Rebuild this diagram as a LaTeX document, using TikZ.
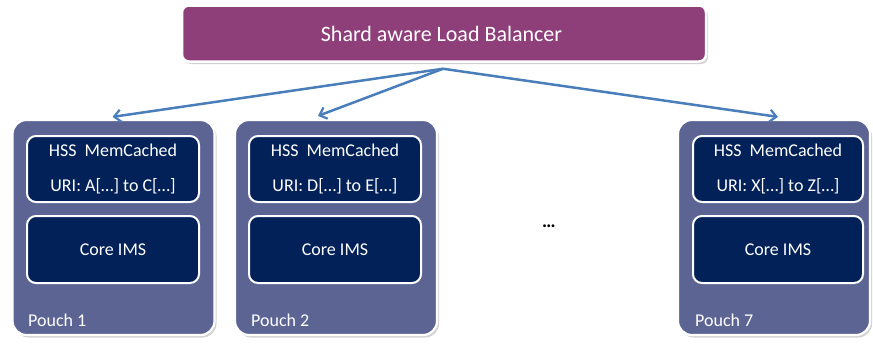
\documentclass[tikz,border=0pt]{standalone}
\usepackage{fontspec}
\setmainfont{Carlito}
\usetikzlibrary{arrows.meta,shadows}
\definecolor{lbpurple}{HTML}{8E3F7A}
\definecolor{pouchblue}{HTML}{5C6494}
\definecolor{navybox}{HTML}{032159}
\definecolor{arrowblue}{HTML}{4A7EBB}
\tikzset{
  lbbox/.style={rounded corners=7pt, fill=lbpurple, draw=white, line width=2.5pt,
    text=white, font=\fontsize{22}{26}\selectfont, inner sep=0pt,
    drop shadow={opacity=0.35, shadow xshift=2pt, shadow yshift=-2.5pt}},
  pouchbox/.style={rounded corners=14pt, fill=pouchblue, draw=white, line width=2.2pt,
    inner sep=0pt, drop shadow={opacity=0.35, shadow xshift=2pt, shadow yshift=-2.5pt}},
  innerbox/.style={rounded corners=9pt, fill=navybox, draw=white, line width=2pt,
    text=white, font=\fontsize{18}{35}\selectfont, align=center, inner sep=0pt},
  pouchlabel/.style={text=white, font=\fontsize{18}{22}\selectfont, anchor=west, inner sep=0pt},
  arr/.style={draw=arrowblue, line width=2.5pt, -{Straight Barb[length=6.5pt,width=12pt,line width=2.2pt]}},
}
\begin{document}
\begin{tikzpicture}[x=1pt,y=-1pt]
\useasboundingbox[fill=white] (0,0) rectangle (873,343);
\node[lbbox, minimum width=524pt, minimum height=56pt] (lb) at (444,33.5) {};
\node[text=white, font=\fontsize{22}{26}\selectfont, inner sep=0pt] (lbt) at (441.5,33.5) {Shard aware Load Balancer};

\node[pouchbox, minimum width=202pt, minimum height=215pt] (p1) at (113.5,227.5) {};
\node[pouchbox, minimum width=202pt, minimum height=215pt] (p2) at (336,227.5) {};
\node[pouchbox, minimum width=192pt, minimum height=215pt] (p7) at (774,227.5) {};

\node[innerbox, minimum width=172pt, minimum height=66pt] (h1) at (113,169) {HSS\ \ MemCached\\URI: A[…] to C[…]};
\node[innerbox, minimum width=172pt, minimum height=67pt] (c1) at (113,249.5) {Core IMS};
\node[innerbox, minimum width=172pt, minimum height=66pt] (h2) at (335,169) {HSS\ \ MemCached\\URI: D[…] to E[…]};
\node[innerbox, minimum width=172pt, minimum height=67pt] (c2) at (335,249.5) {Core IMS};
\node[innerbox, minimum width=170pt, minimum height=66pt] (h7) at (778,169) {HSS\ \ MemCached\\URI: X[…] to Z[…]};
\node[innerbox, minimum width=170pt, minimum height=67pt] (c7) at (778,249.5) {Core IMS};

\node[pouchlabel] (l1) at (28,320) {Pouch 1};
\node[pouchlabel] (l2) at (251,320) {Pouch 2};
\node[pouchlabel] (l7) at (695,320) {Pouch 7};

\node[font=\bfseries\fontsize{19}{22}\selectfont, inner sep=0pt] (dots) at (549,226) {…};

\coordinate (src) at ([xshift=-1pt,yshift=-6pt]lb.south);
\draw[arr] (src) -- ([xshift=-1pt,yshift=2pt]p1.north);
\draw[arr] (src) -- ([xshift=-18pt,yshift=3pt]p2.north);
\draw[arr] (src) -- ([xshift=4pt,yshift=2pt]p7.north);
\end{tikzpicture}
\end{document}
